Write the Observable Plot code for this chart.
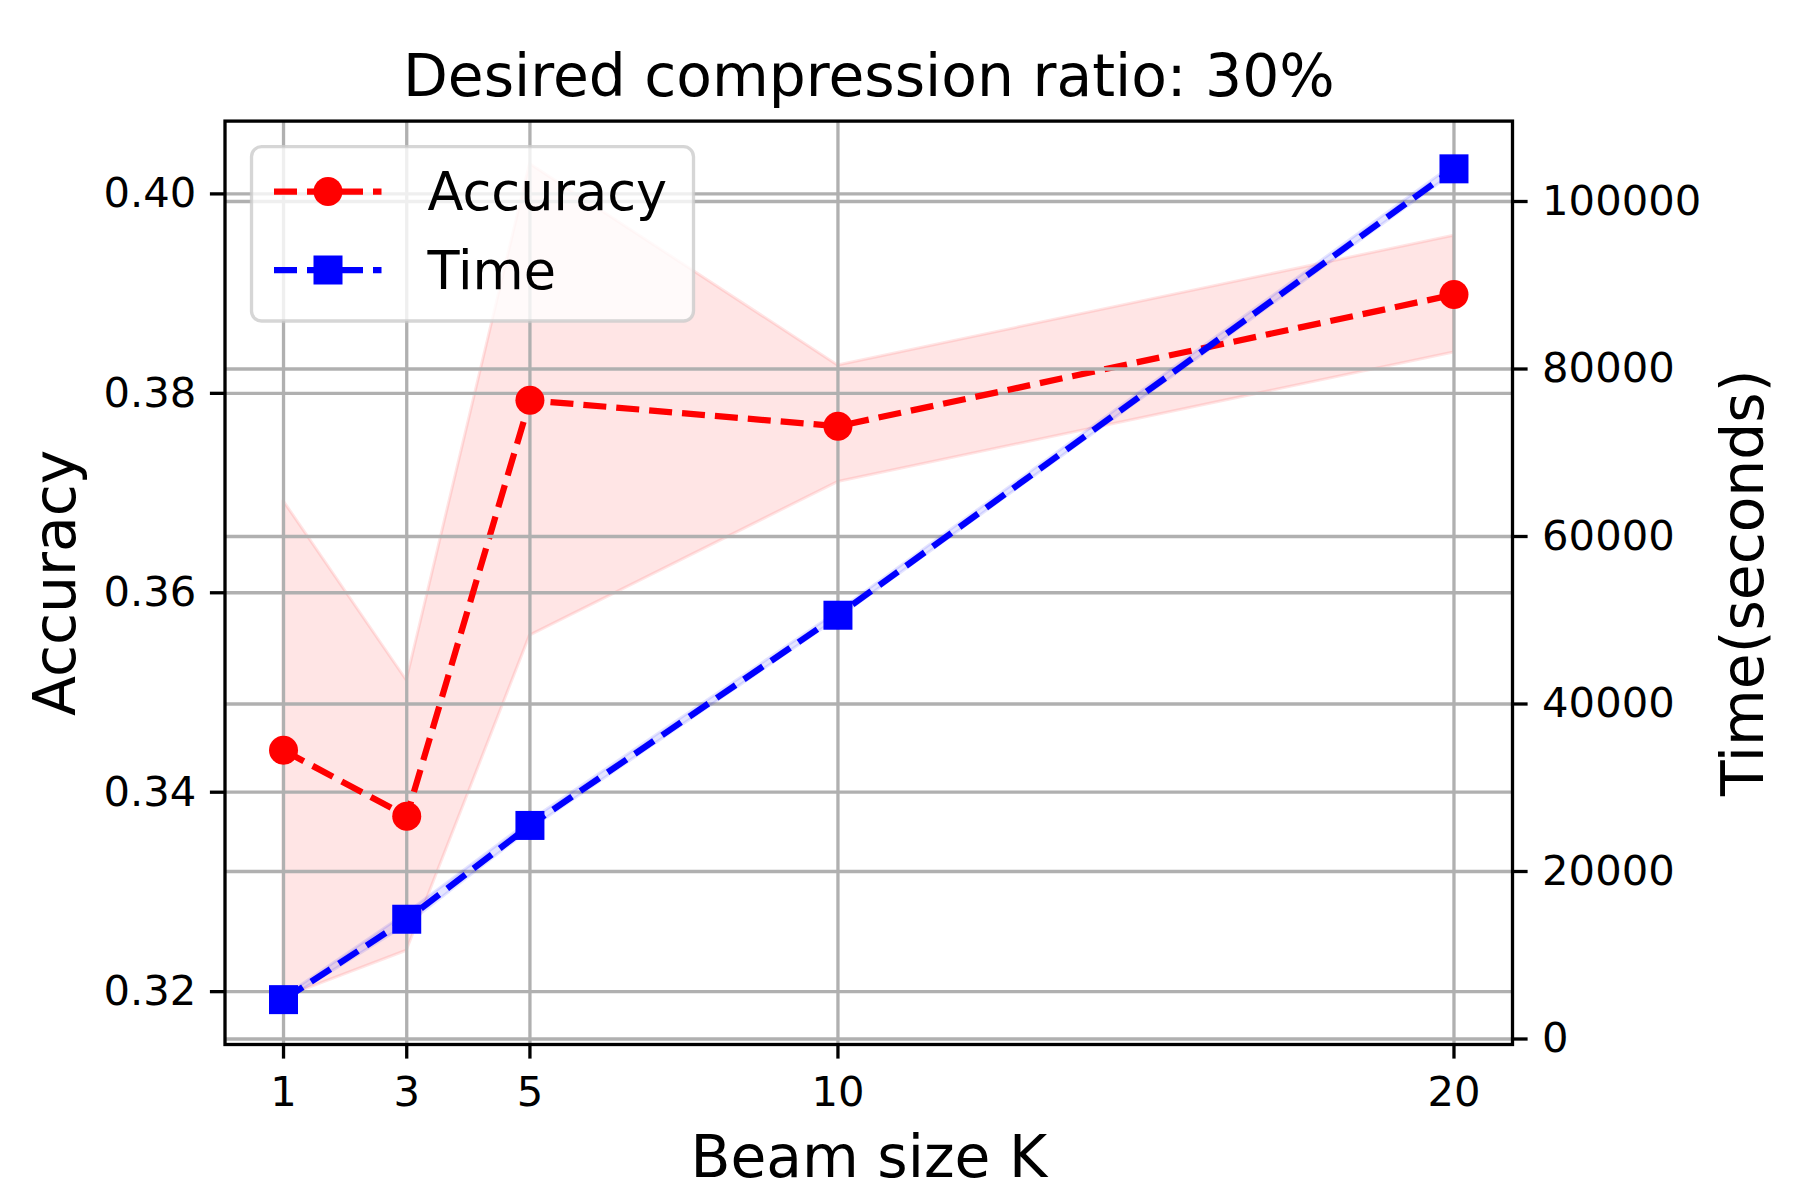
<!DOCTYPE html>
<html>
<head>
<meta charset="utf-8">
<script src="https://cdn.jsdelivr.net/npm/d3@7"></script>
<script src="https://cdn.jsdelivr.net/npm/@observablehq/plot@0.6"></script>
<style>
  html, body { margin: 0; padding: 0; background: #fff; }
  #chart svg { display: block; }
</style>
</head>
<body>
<div id="chart"></div>
<script>
// ---- data ----
const beamSizes = [1, 3, 5, 10, 20];
const accuracy = [0.3442, 0.3376, 0.3793, 0.3767, 0.3899];
const accuracyLow = [0.3194, 0.3241, 0.3557, 0.3711, 0.3841];
const accuracyHigh = [0.3692, 0.3512, 0.4030, 0.3828, 0.3958];
const timeSeconds = [4700, 14300, 25500, 50600, 103900];
const timeSpread = [250, 700, 500, 400, 500];

const beamTicks = [1, 3, 5, 10, 20];
const accuracyTicks = [0.32, 0.34, 0.36, 0.38, 0.40];
const timeTicks = [0, 20000, 40000, 60000, 80000, 100000];

const titleText = "Desired compression ratio: 30%";
const xLabel = "Beam size K";
const yLabel = "Accuracy";
const y2Label = "Time(seconds)";
const legendLabels = ["Accuracy", "Time"];
const legendColors = ["#ff0000", "#0000ff"];
const legendSymbols = ["circle", "square"];

// ---- scales ----
const xDomain = [0.05, 20.95];
const accDomain = [0.3147, 0.4073];
const timeDomain = [-657, 109600];
const t2a = d3.scaleLinear(timeDomain, accDomain);

const rows = beamSizes.map((k, i) => ({
  k,
  acc: accuracy[i],
  lo: accuracyLow[i],
  hi: accuracyHigh[i],
  t: t2a(timeSeconds[i]),
  tlo: t2a(timeSeconds[i] - timeSpread[i]),
  thi: t2a(timeSeconds[i] + timeSpread[i])
}));

const W = 1800, H = 1200;
const mL = 224.5, mR = 288, mT = 120.6, mB = 156;
const grid = {stroke: "#b0b0b0", strokeWidth: 3.3};
const font = "DejaVu Sans";
const lw = 6.25;

const plot = Plot.plot({
  width: W,
  height: H,
  marginLeft: mL,
  marginRight: mR,
  marginTop: mT,
  marginBottom: mB,
  style: {fontFamily: font, background: "white", overflow: "visible"},
  x: {type: "linear", domain: xDomain, axis: null, label: null},
  y: {type: "linear", domain: accDomain, axis: null, label: null},
  marks: [
    // accuracy band
    Plot.areaY(rows, {x: "k", y1: "lo", y2: "hi", fill: "#ff0000", fillOpacity: 0.1,
      stroke: "#ff0000", strokeOpacity: 0.1, strokeWidth: 3}),
    // left grid + x grid
    Plot.ruleY(accuracyTicks, grid),
    Plot.ruleX(beamTicks, grid),
    // accuracy line
    Plot.lineY(rows, {x: "k", y: "acc", stroke: "#ff0000", strokeWidth: lw,
      strokeDasharray: "23,10", strokeLinecap: "butt", strokeLinejoin: "round"}),
    Plot.dot(rows, {x: "k", y: "acc", r: 14.5, fill: "#ff0000", stroke: null}),
    // right grid
    Plot.ruleY(timeTicks.map(t2a), grid),
    // time band
    Plot.areaY(rows, {x: "k", y1: "tlo", y2: "thi", fill: "#0000ff", fillOpacity: 0.1,
      stroke: "#0000ff", strokeOpacity: 0.1, strokeWidth: 3}),
    Plot.lineY(rows, {x: "k", y: "t", stroke: "#0000ff", strokeWidth: lw,
      strokeDasharray: "23,10", strokeLinecap: "butt", strokeLinejoin: "round"}),
    Plot.dot(rows, {x: "k", y: "t", r: 16.36, symbol: "square", fill: "#0000ff", stroke: null}),
    // axes
    Plot.axisY(accuracyTicks, {anchor: "left", tickSize: 14.6, tickPadding: 14, fontSize: 41.7,
      tickFormat: d3.format(".2f"), strokeWidth: 3.3, label: null, fontFamily: font}),
    Plot.axisY(timeTicks.map(t2a), {anchor: "right", tickSize: 14.6, tickPadding: 15, fontSize: 41.7,
      tickFormat: d => String(Math.round(t2a.invert(d) / 1000) * 1000), strokeWidth: 3.3, label: null, fontFamily: font}),
    Plot.axisX(beamTicks, {anchor: "bottom", tickSize: 14.6, tickPadding: 17, fontSize: 41.7,
      tickFormat: d => String(d), strokeWidth: 3.3, label: null, fontFamily: font}),
    Plot.frame({stroke: "black", strokeWidth: 3.3}),
    // title & labels
    Plot.text([titleText], {text: d => d, frameAnchor: "top", lineAnchor: "bottom", dy: -25,
      fontSize: 58.3, fontFamily: font, fill: "black", textAnchor: "middle"}),
    Plot.text([xLabel], {text: d => d, frameAnchor: "bottom", lineAnchor: "bottom", dy: 132,
      fontSize: 58.3, fontFamily: font, fill: "black", textAnchor: "middle"}),
    Plot.text([yLabel], {text: d => d, frameAnchor: "left", lineAnchor: "bottom", rotate: -90,
      textAnchor: "middle", dx: 74 - mL, fontSize: 58.3, fontFamily: font, fill: "black"}),
    Plot.text([y2Label], {text: d => d, frameAnchor: "right", lineAnchor: "bottom", rotate: -90,
      textAnchor: "middle", dx: 1762 - (W - mR), fontSize: 58.3, fontFamily: font, fill: "black"})
  ]
});

document.getElementById("chart").appendChild(plot);

// ---- legend (drawn into the SVG, upper-left of the frame) ----
const svg = d3.select(plot);
const lg = svg.append("g").attr("font-family", font).attr("text-anchor", "start");
lg.append("rect")
  .attr("x", 251.5).attr("y", 146.7).attr("width", 442).attr("height", 174.3)
  .attr("rx", 10).attr("ry", 10)
  .attr("fill", "white").attr("fill-opacity", 0.8)
  .attr("stroke", "#cccccc").attr("stroke-opacity", 0.8).attr("stroke-width", 3.3);
const rowY = [191.5, 270];
legendLabels.forEach((lab, i) => {
  const y = rowY[i];
  lg.append("line")
    .attr("x1", 274).attr("x2", 381.5).attr("y1", y).attr("y2", y)
    .attr("stroke", legendColors[i]).attr("stroke-width", lw)
    .attr("stroke-dasharray", "23,10").attr("stroke-linecap", "butt");
  if (legendSymbols[i] === "circle") {
    lg.append("circle").attr("cx", 328).attr("cy", y).attr("r", 14.5).attr("fill", legendColors[i]);
  } else {
    lg.append("rect").attr("x", 328 - 14.5).attr("y", y - 14.5).attr("width", 29).attr("height", 29)
      .attr("fill", legendColors[i]);
  }
  lg.append("text")
    .attr("x", 427.5).attr("y", y).attr("dy", "0.36em")
    .attr("text-anchor", "start")
    .attr("font-size", 52.5).attr("fill", "black")
    .text(lab);
});
</script>
</body>
</html>
